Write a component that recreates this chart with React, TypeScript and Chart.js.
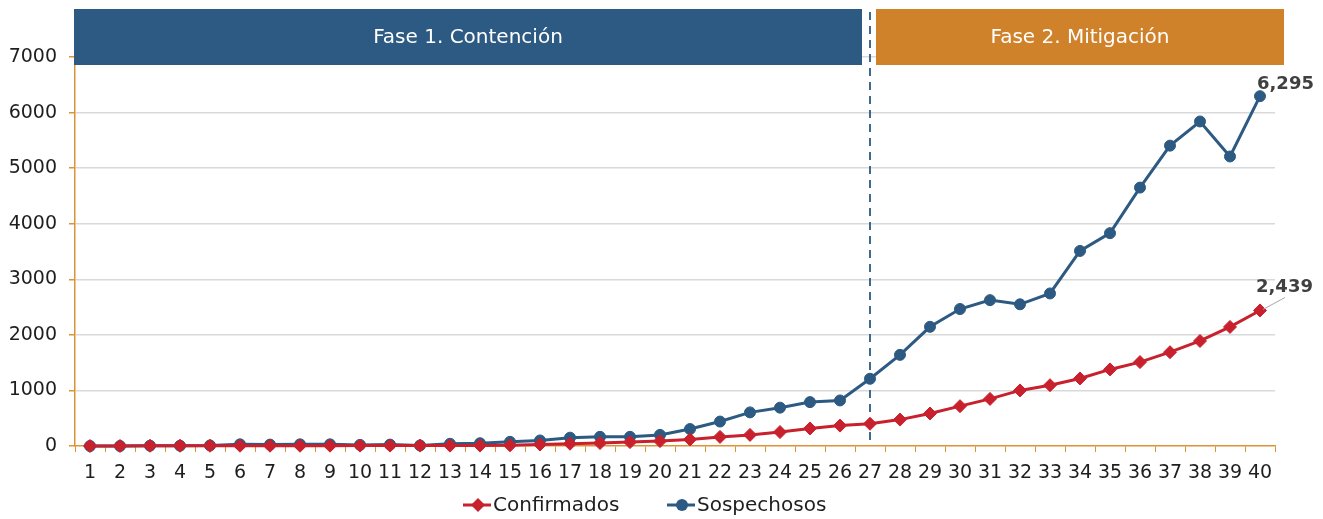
import React, { useEffect, useRef } from 'react';
import { Chart, registerables } from 'chart.js';

Chart.register(...registerables);

// ---- Data ----
const dias = ['1', '2', '3', '4', '5', '6', '7', '8', '9', '10', '11', '12', '13', '14', '15', '16', '17', '18', '19', '20',
  '21', '22', '23', '24', '25', '26', '27', '28', '29', '30', '31', '32', '33', '34', '35', '36', '37', '38', '39', '40'];

const confirmados = [0, 1, 4, 5, 5, 5, 5, 5, 6, 7, 7, 7, 7, 8, 12, 26, 41, 53, 70, 88,
  118, 164, 200, 251, 316, 367, 400, 475, 585, 717, 848, 1000, 1094, 1215, 1378, 1510, 1688, 1890, 2143, 2439];

const sospechosos = [0, 0, 5, 5, 10, 30, 25, 30, 30, 20, 25, 10, 40, 50, 75, 100, 150, 165, 165, 200,
  305, 440, 605, 690, 790, 820, 1210, 1640, 2145, 2465, 2625, 2550, 2745, 3510, 3830, 4650, 5405, 5840, 5210, 6295];

const yTicks = [0, 1000, 2000, 3000, 4000, 5000, 6000, 7000];
const seriesNames = ['Confirmados', 'Sospechosos'];
const fases = ['Fase 1. Contención', 'Fase 2. Mitigación'];
const inicioFase2 = '27';

// ---- Styles ----
const BLUE = '#2c5a82';
const RED = '#c8202d';
const ORANGE = '#d0822a';
const AXIS = '#de9236';
const GRID = '#d9d9d9';
const TEXT = '#1e1e1e';
const LABEL = '#404040';
const FONT = '"DejaVu Sans", "Liberation Sans", sans-serif';

const fmt = (v: number) => v.toLocaleString('en-US');

const overlayPlugin = {
  id: 'overlay',
  beforeDatasetsDraw(chart: any) {
    const { ctx, chartArea, scales } = chart;
    const x = scales.x;
    const xs = x.getPixelForValue(dias.indexOf(inicioFase2));
    ctx.save();
    // dashed divider
    ctx.strokeStyle = BLUE;
    ctx.lineWidth = 1.8;
    ctx.setLineDash([8, 6]);
    ctx.beginPath();
    ctx.moveTo(xs, 12);
    ctx.lineTo(xs, chartArea.bottom);
    ctx.stroke();
    ctx.setLineDash([]);
    // banners
    const top = 9;
    const h = 56;
    const b1l = chartArea.left - 1;
    const b1r = xs - 8;
    const b2l = xs + 6;
    const b2r = chartArea.right + 9;
    ctx.fillStyle = BLUE;
    ctx.fillRect(b1l, top, b1r - b1l, h);
    ctx.fillStyle = ORANGE;
    ctx.fillRect(b2l, top, b2r - b2l, h);
    ctx.fillStyle = '#ffffff';
    ctx.font = '20px ' + FONT;
    ctx.textAlign = 'center';
    ctx.textBaseline = 'middle';
    ctx.fillText(fases[0], (b1l + b1r) / 2, top + h / 2 + 1);
    ctx.fillText(fases[1], (b2l + b2r) / 2, top + h / 2 + 1);
    ctx.restore();
  },
  afterDraw(chart: any) {
    const { ctx } = chart;
    const last = dias.length - 1;
    const pR = chart.getDatasetMeta(0).data[last];
    const pB = chart.getDatasetMeta(1).data[last];
    ctx.save();
    // leader line for confirmados
    ctx.strokeStyle = '#a6a6a6';
    ctx.lineWidth = 1;
    ctx.beginPath();
    ctx.moveTo(pR.x + 3, pR.y - 1);
    ctx.lineTo(pR.x + 25, pR.y - 13);
    ctx.stroke();
    ctx.font = 'bold 18px ' + FONT;
    ctx.fillStyle = LABEL;
    ctx.textAlign = 'left';
    ctx.textBaseline = 'alphabetic';
    ctx.fillText(fmt(sospechosos[last]), pB.x - 3, pB.y - 7);
    ctx.fillText(fmt(confirmados[last]), pR.x - 4, pR.y - 18);

    // legend
    const ly = 505;
    const items = [
      { x0: 463, color: RED, style: 'diamond', text: seriesNames[0] },
      { x0: 667, color: BLUE, style: 'circle', text: seriesNames[1] },
    ];
    ctx.font = '20px ' + FONT;
    ctx.textBaseline = 'middle';
    for (const it of items) {
      ctx.strokeStyle = it.color;
      ctx.fillStyle = it.color;
      ctx.lineWidth = 3;
      ctx.beginPath();
      ctx.moveTo(it.x0, ly);
      ctx.lineTo(it.x0 + 28, ly);
      ctx.stroke();
      const cx = it.x0 + 15;
      ctx.beginPath();
      if (it.style === 'diamond') {
        ctx.moveTo(cx - 7, ly);
        ctx.lineTo(cx, ly - 7);
        ctx.lineTo(cx + 7, ly);
        ctx.lineTo(cx, ly + 7);
        ctx.closePath();
      } else {
        ctx.arc(cx, ly, 6, 0, Math.PI * 2);
      }
      ctx.fill();
      ctx.fillStyle = TEXT;
      ctx.fillText(it.text, it.x0 + 30, ly + 1);
    }
    ctx.restore();
  },
};

export default function App() {
  const canvasRef = useRef<HTMLCanvasElement | null>(null);

  useEffect(() => {
    if (!canvasRef.current) return;
    const chart = new Chart(canvasRef.current, {
      type: 'line',
      data: {
        labels: dias,
        datasets: [
          {
            label: seriesNames[0],
            data: confirmados,
            borderColor: RED,
            backgroundColor: RED,
            borderWidth: 3,
            pointStyle: 'rectRot',
            pointRadius: 6.5,
            pointBorderWidth: 1,
            pointBackgroundColor: RED,
            pointBorderColor: RED,
            tension: 0,
            clip: false as any,
          },
          {
            label: seriesNames[1],
            data: sospechosos,
            borderColor: BLUE,
            backgroundColor: BLUE,
            borderWidth: 3,
            pointStyle: 'circle',
            pointRadius: 5.5,
            pointBorderWidth: 1,
            pointBackgroundColor: BLUE,
            pointBorderColor: BLUE,
            tension: 0,
            clip: false as any,
          },
        ],
      },
      options: {
        responsive: true,
        maintainAspectRatio: false,
        animation: false,
        events: [],
        layout: { padding: { top: 57, right: 48, bottom: 0, left: 0 } },
        plugins: {
          legend: { display: false },
          tooltip: { enabled: false },
          title: { display: false },
        },
        scales: {
          x: {
            type: 'category',
            offset: true,
            grid: {
              display: true,
              offset: true,
              drawOnChartArea: false,
              drawTicks: true,
              tickLength: 6,
              color: AXIS,
              tickColor: AXIS,
            },
            border: { display: true, color: AXIS, width: 1.5 },
            ticks: {
              autoSkip: false,
              maxRotation: 0,
              minRotation: 0,
              padding: 10,
              color: TEXT,
              font: { family: FONT, size: 19 },
            },
            afterFit: (scale: any) => {
              scale.height = 73;
            },
          },
          y: {
            min: yTicks[0],
            max: yTicks[yTicks.length - 1],
            afterBuildTicks: (scale: any) => {
              scale.ticks = yTicks.map((v) => ({ value: v }));
            },
            grid: {
              color: (c: any) => (c.tick && c.tick.value === 0 ? 'rgba(0,0,0,0)' : GRID),
              lineWidth: 1.5,
              tickColor: AXIS,
              tickLength: 6,
              drawTicks: true,
            },
            border: { display: true, color: AXIS, width: 1.5 },
            ticks: {
              padding: 12,
              color: TEXT,
              font: { family: FONT, size: 19 },
              callback: (v: any) => String(v),
            },
            afterFit: (scale: any) => {
              scale.width = 75;
            },
          },
        },
      },
      plugins: [overlayPlugin],
    });
    return () => chart.destroy();
  }, []);

  return (
    <div style={{ position: 'absolute', left: 0, top: 0, width: 1323, height: 519, background: '#fff' }}>
      <canvas ref={canvasRef} />
    </div>
  );
}
